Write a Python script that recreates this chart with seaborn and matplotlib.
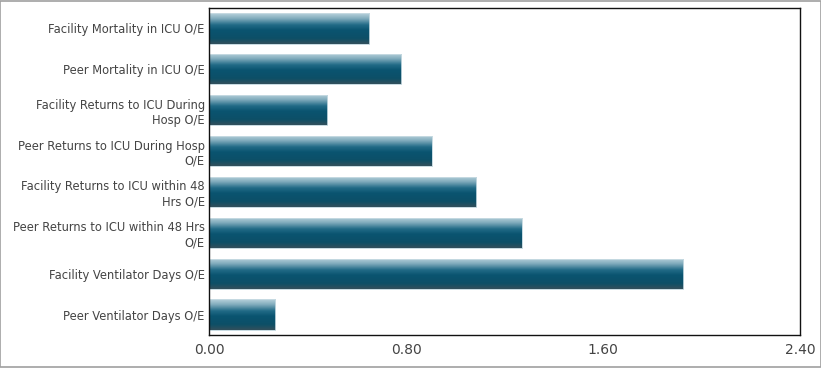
import numpy as np
import pandas as pd
import matplotlib
matplotlib.use("Agg")
import matplotlib.pyplot as plt
import seaborn as sns
from matplotlib.colors import LinearSegmentedColormap
from matplotlib.patches import Rectangle

categories = [
    "Facility Mortality in ICU O/E",
    "Peer Mortality in ICU O/E",
    "Facility Returns to ICU During\nHosp O/E",
    "Peer Returns to ICU During Hosp\nO/E",
    "Facility Returns to ICU within 48\nHrs O/E",
    "Peer Returns to ICU within 48 Hrs\nO/E",
    "Facility Ventilator Days O/E",
    "Peer Ventilator Days O/E",
]
values = [0.65, 0.78, 0.48, 0.905, 1.085, 1.27, 1.925, 0.27]
xticks = [0.0, 0.8, 1.6, 2.4]
xtick_labels = ["0.00", "0.80", "1.60", "2.40"]

sns.set_theme(style="white")
plt.rcParams["font.family"] = ["DejaVu Sans"]

df = pd.DataFrame({"category": categories, "value": values})

fig = plt.figure(figsize=(8.21, 3.68), dpi=100)
ax = fig.add_axes([209 / 821, 1 - 335 / 368, (800 - 209) / 821, (335 - 8) / 368])

sns.barplot(data=df, x="value", y="category", orient="h", color="#0b5470",
            width=0.74, ax=ax, edgecolor="#cfe0e6", linewidth=0.6)

cmap = LinearSegmentedColormap.from_list(
    "bar", [(0.0, "#bad3dd"), (0.18, "#80abbc"), (0.38, "#226b87"),
            (0.55, "#0a5470"), (0.82, "#0d4f67"), (1.0, "#33505c")])
grad = np.linspace(0, 1, 256).reshape(-1, 1)
for p in list(ax.patches):
    x0, y0 = p.get_x(), p.get_y()
    w, h = p.get_width(), p.get_height()
    im = ax.imshow(grad, cmap=cmap, aspect="auto",
                   extent=[x0, x0 + w, y0 + h, y0], origin="upper",
                   zorder=p.get_zorder() + 0.1, interpolation="bilinear")
    im.set_clip_path(p)
    ax.add_patch(Rectangle((x0, y0), w, h, fill=False, edgecolor="#c9dce3",
                           linewidth=0.6, zorder=p.get_zorder() + 0.2))

ax.set_xlim(0, 2.4)
ax.set_ylim(7.5, -0.5)
ax.set_xticks(xticks)
ax.set_xticklabels(xtick_labels)
ax.set_xlabel("")
ax.set_ylabel("")
ax.tick_params(axis="both", length=0, colors="#444444")
ax.tick_params(axis="y", labelsize=8.3, pad=3)
ax.tick_params(axis="x", labelsize=10, pad=6)
for lbl in ax.get_yticklabels():
    lbl.set_multialignment("right")
for s in ax.spines.values():
    s.set_visible(True)
    s.set_color("#111111")
    s.set_linewidth(1.0)

fig.patches.append(Rectangle((0.0006, 0.0014), 0.9988, 0.997, transform=fig.transFigure,
                             fill=False, edgecolor="#a0a0a0", linewidth=1.2))

fig.savefig("out.png", dpi=100)
